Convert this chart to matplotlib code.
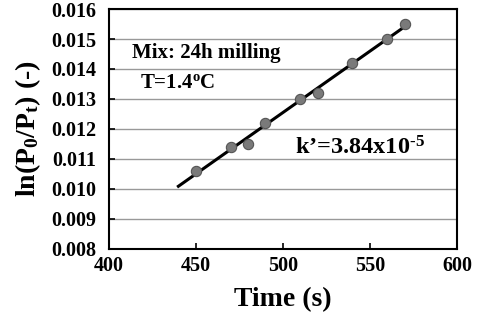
import numpy as np
import matplotlib
matplotlib.use("Agg")
import matplotlib.pyplot as plt

# data
time_s = [450, 470, 480, 490, 510, 520, 540, 560, 570]
ln_ratio = [0.0106, 0.0114, 0.0115, 0.0122, 0.0130, 0.0132, 0.0142, 0.0150, 0.0155]
fit_range = [440, 570]

x_ticks = [400, 450, 500, 550, 600]
y_ticks = [0.008, 0.009, 0.010, 0.011, 0.012, 0.013, 0.014, 0.015, 0.016]

plt.rcParams['font.family'] = 'Liberation Serif'
plt.rcParams['font.weight'] = 'bold'
plt.rcParams['mathtext.fontset'] = 'custom'
plt.rcParams['mathtext.rm'] = 'Liberation Serif:bold'
plt.rcParams['mathtext.bf'] = 'Liberation Serif:bold'
plt.rcParams['mathtext.it'] = 'Liberation Serif:bold'
plt.rcParams['mathtext.default'] = 'bf'

fig = plt.figure(figsize=(4.79, 3.22), dpi=100)
ax = fig.add_axes([0.227, 0.227, 0.727, 0.745])

# linear fit line
coef = np.polyfit(time_s, ln_ratio, 1)
xf = np.array(fit_range)
ax.plot(xf, np.polyval(coef, xf), color='black', lw=2.2, zorder=3)
ax.scatter(time_s, ln_ratio, s=55, color='#7a7a7a', edgecolors='#555555',
           linewidths=0.8, zorder=4)

ax.set_xlim(400, 600)
ax.set_ylim(0.008, 0.016)
ax.set_xticks(x_ticks)
ax.set_yticks(y_ticks)
ax.set_yticklabels(['%.3f' % v for v in y_ticks])
ax.grid(axis='y', color='#999999', lw=1.0)
ax.set_axisbelow(True)
ax.tick_params(direction='in', length=4, width=1.2, labelsize=14.5)
ax.tick_params(axis='y', pad=9)
ax.tick_params(axis='x', pad=5)
for s in ax.spines.values():
    s.set_linewidth(1.5)

ax.set_xlabel('Time (s)', fontsize=20, fontweight='bold', labelpad=8)
ax.set_ylabel(r'ln(P$_0$/P$_t$) (-)', fontsize=20, fontweight='bold',
              labelpad=6)

ax.text(413.5, 0.01453, 'Mix: 24h milling', fontsize=15, fontweight='bold',
        va='center', ha='left')
ax.text(418, 0.01353, r'T=1.4$^o$C', fontsize=15, fontweight='bold',
        va='center', ha='left')
ax.text(507, 0.01137, "k\u2019=3.84x10$^{\\text{-5}}$", fontsize=17.5,
        fontweight='bold', va='center', ha='left')

fig.savefig('out.png', dpi=100)
